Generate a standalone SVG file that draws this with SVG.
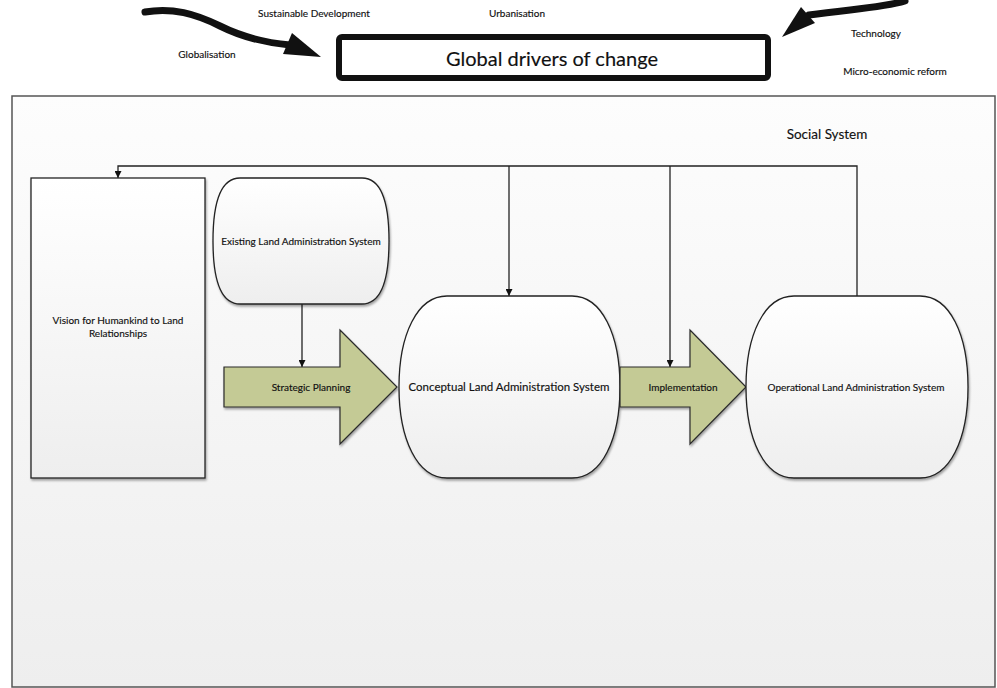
<svg xmlns="http://www.w3.org/2000/svg" width="997" height="688" viewBox="0 0 997 688">
  <defs>
    <linearGradient id="frameFill" x1="0" y1="0" x2="0" y2="1">
      <stop offset="0" stop-color="#fdfdfd"/>
      <stop offset="1" stop-color="#eeeeee"/>
    </linearGradient>
    <linearGradient id="nodeFill" x1="0" y1="0" x2="0" y2="1">
      <stop offset="0" stop-color="#ffffff"/>
      <stop offset="1" stop-color="#eeeeee"/>
    </linearGradient>
    <filter id="shadow" x="-10%" y="-10%" width="130%" height="130%">
      <feDropShadow dx="1" dy="2" stdDeviation="1.2" flood-color="#000" flood-opacity="0.35"/>
    </filter>
    <marker id="tri" viewBox="0 0 10 10" refX="10" refY="5" markerWidth="7" markerHeight="7" orient="auto" markerUnits="userSpaceOnUse">
      <path d="M0,0 L10,5 L0,10 Z" fill="#111"/>
    </marker>
  </defs>
  <style>
    text { font-family: Lato, "Liberation Sans", sans-serif; fill: #111; stroke: #111; stroke-width: 0.15; text-anchor: middle; }
    .lbl { font-size: 10px; }
    .node { fill: url(#nodeFill); stroke: #222; stroke-width: 1.3; filter: url(#shadow); }
    .block { fill: #c4ca95; stroke: #2a2a2a; stroke-width: 1.2; filter: url(#shadow); }
    .conn { fill: none; stroke: #222; stroke-width: 1.3; }
    .drive { fill: none; stroke: #111; stroke-width: 7; stroke-linecap: round; }
  </style>

  <rect width="997" height="688" fill="#ffffff"/>

  <!-- drivers of change, above the social system -->
  <g id="drivers">
    <text class="lbl" x="314" y="17">Sustainable Development</text>
    <text class="lbl" x="517" y="17">Urbanisation</text>
    <text class="lbl" x="207" y="58">Globalisation</text>
    <text class="lbl" x="876" y="37">Technology</text>
    <text class="lbl" x="895" y="75">Micro-economic reform</text>
  </g>

  <g id="driver-arrows">
    <path class="drive" d="M145,12 C172,7 196,14 220,26 S268,43 290,45"/>
    <polygon points="292,33 321,57 283,54" fill="#111"/>
    <path class="drive" d="M905,1 C882,8 850,9 809,15"/>
    <polygon points="801,7 815,23 782,37" fill="#111"/>
  </g>

  <g id="global-drivers">
    <rect x="339" y="37" width="429" height="41" rx="3" fill="#ffffff" stroke="#111" stroke-width="6"/>
    <text x="552" y="66" font-size="20" stroke-width="0">Global drivers of change</text>
  </g>

  <!-- social system frame -->
  <g id="social-system">
    <rect x="12" y="96" width="983" height="591" fill="url(#frameFill)" stroke="#555" stroke-width="1.5"/>
    <text x="827" y="139" font-size="13.5">Social System</text>
  </g>

  <!-- connectors -->
  <g id="connectors">
    <path class="conn" d="M857,296 V166 H118 V178" marker-end="url(#tri)"/>
    <path class="conn" d="M509,166 V296" marker-end="url(#tri)"/>
    <path class="conn" d="M670,166 V367" marker-end="url(#tri)"/>
    <path class="conn" d="M302,304 V367" marker-end="url(#tri)"/>
  </g>

  <g id="vision">
    <rect class="node" x="31" y="178" width="174" height="300"/>
    <text class="lbl" x="118" y="324" font-size="9.7">Vision for Humankind to Land</text>
    <text class="lbl" x="118" y="337" font-size="9.7">Relationships</text>
  </g>

  <g id="existing">
    <path class="node" d="M240,178 H362 C380,178 389,200 389,241 C389,282 380,304 362,304 H240 C222,304 213,282 213,241 C213,200 222,178 240,178 Z"/>
    <text class="lbl" x="301" y="245" font-size="9.6">Existing Land Administration System</text>
  </g>

  <g id="strategic-planning">
    <path class="block" d="M224,367 H340 V330 L397,387 L340,444 V407 H224 Z"/>
    <text class="lbl" x="311" y="391" font-size="9.8">Strategic Planning</text>
  </g>

  <g id="conceptual">
    <path class="node" d="M447,296 H572 C602,296 620,335 620,387 C620,439 602,478 572,478 H447 C417,478 399,439 399,387 C399,335 417,296 447,296 Z"/>
    <text x="509" y="391" font-size="11.5">Conceptual Land Administration System</text>
  </g>

  <g id="implementation">
    <path class="block" d="M620,367 H690 V330 L746,387 L690,444 V407 H620 Z"/>
    <text class="lbl" x="683" y="391">Implementation</text>
  </g>

  <g id="operational">
    <path class="node" d="M794,296 H920 C950,296 968,335 968,387 C968,439 950,478 920,478 H794 C764,478 746,439 746,387 C746,335 764,296 794,296 Z"/>
    <text class="lbl" x="856" y="391" font-size="10.3">Operational Land Administration System</text>
  </g>
</svg>
